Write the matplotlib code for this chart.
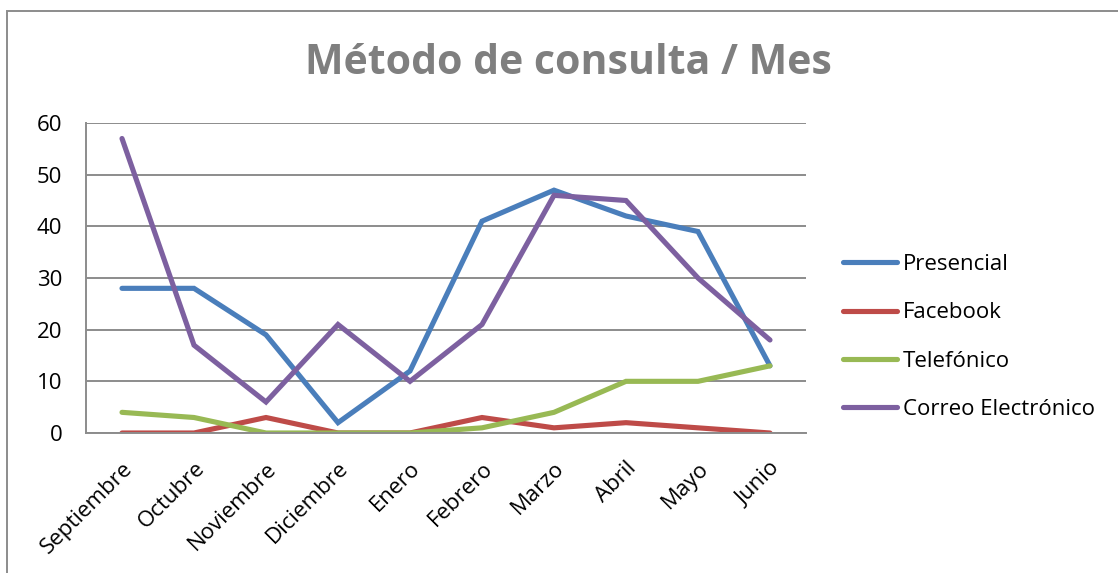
import matplotlib
matplotlib.use("Agg")
import matplotlib.pyplot as plt
from matplotlib.patches import Rectangle

meses = ['Septiembre', 'Octubre', 'Noviembre', 'Diciembre', 'Enero',
         'Febrero', 'Marzo', 'Abril', 'Mayo', 'Junio']
presencial = [28, 28, 19, 2, 12, 41, 47, 42, 39, 13]
facebook = [0, 0, 3, 0, 0, 3, 1, 2, 1, 0]
telefonico = [4, 3, 0, 0, 0, 1, 4, 10, 10, 13]
correo = [57, 17, 6, 21, 10, 21, 46, 45, 30, 18]

series = ['Presencial', 'Facebook', 'Telefónico', 'Correo Electrónico']
colores = ['#4a7ebb', '#be4b48', '#98b954', '#7d60a0']

plt.rcParams['font.family'] = ['Open Sans', 'DejaVu Sans']

W, H = 1118, 573
fig = plt.figure(figsize=(W / 100, H / 100), dpi=100)
# plot area in pixel coords of the reference
ax = fig.add_axes([86 / W, 1 - 433 / H, (806 - 86) / W, (433 - 123) / H])

x = list(range(len(meses)))
for nombre, datos, c in zip(series, [presencial, facebook, telefonico, correo], colores):
    ax.plot(x, datos, color=c, lw=3.7, label=nombre, solid_capstyle='round',
            solid_joinstyle='miter')

ax.set_xlim(-0.5, 9.5)
ax.set_ylim(0, 60)
ax.set_yticks(range(0, 61, 10))
ax.yaxis.grid(True, color='#8c8c8c', lw=1.4)
ax.set_axisbelow(True)
for s in ['top', 'right']:
    ax.spines[s].set_visible(False)
for s in ['left', 'bottom']:
    ax.spines[s].set_color('#8c8c8c')
    ax.spines[s].set_linewidth(1.4)
ax.tick_params(axis='y', length=0, labelsize=16, pad=17)
ax.tick_params(axis='x', length=0, labelsize=16, pad=18)
ax.set_xticks(x)
ax.set_xticklabels(meses, rotation=45, ha='right', rotation_mode='anchor')

fig.text(568 / W, 1 - 64 / H, 'Método de consulta / Mes', ha='center', va='center',
         fontsize=29.5, fontweight='bold', color='#7f7f7f')

ax.legend(loc='center left', bbox_to_anchor=(843 / W, 1 - 337 / H),
          bbox_transform=fig.transFigure, frameon=False, fontsize=16,
          handlelength=2.43, handletextpad=0.27, labelspacing=1.23, borderpad=0,
          borderaxespad=0)

fig.patches.append(Rectangle((7 / W, -0.1), 1.2, 1 - 11 / H + 0.1,
                             transform=fig.transFigure, fill=False,
                             edgecolor='#8c8c8c', lw=1.4))

fig.savefig('out.png', dpi=100)
